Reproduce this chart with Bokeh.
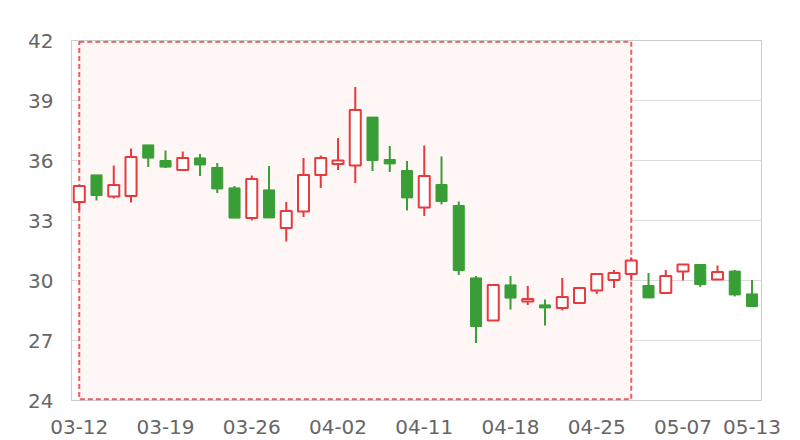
from bokeh.plotting import figure
from bokeh.models import FixedTicker, ColumnDataSource, Range1d
from bokeh.embed import file_html
from bokeh.resources import INLINE

dates = ["03-12", "03-13", "03-14", "03-15", "03-18", "03-19", "03-20", "03-21", "03-22", "03-25",
         "03-26", "03-27", "03-28", "03-29", "04-01", "04-02", "04-03", "04-04", "04-08", "04-09",
         "04-11", "04-12", "04-15", "04-16", "04-17", "04-18", "04-19", "04-22", "04-23", "04-24",
         "04-25", "04-26", "04-29", "04-30", "05-06", "05-07", "05-08", "05-09", "05-10", "05-13"]
opens = [33.92, 35.28, 34.20, 34.23, 36.78, 36.00, 35.53, 36.13, 35.65, 34.63,
         33.13, 34.53, 32.63, 33.45, 35.27, 35.83, 35.75, 38.17, 36.05, 35.50,
         33.65, 34.80, 33.75, 30.13, 28.00, 29.78, 28.95, 28.78, 28.63, 28.87,
         29.50, 30.03, 30.33, 29.75, 29.37, 30.45, 30.80, 30.05, 30.47, 29.33]
closes = [34.72, 34.25, 34.78, 36.17, 36.12, 35.67, 36.12, 35.78, 34.58, 33.12,
          35.07, 33.13, 33.48, 35.28, 36.13, 36.00, 38.53, 36.00, 35.83, 34.13,
          35.22, 33.95, 30.50, 27.70, 29.77, 29.12, 29.08, 28.63, 29.17, 29.63,
          30.33, 30.37, 31.00, 29.13, 30.22, 30.80, 29.80, 30.42, 29.28, 28.70]
lows = [33.50, 34.00, 34.10, 33.90, 35.67, 35.62, 35.47, 35.22, 34.38, 33.12,
        33.00, 33.13, 31.95, 33.17, 34.62, 35.53, 34.88, 35.47, 35.42, 33.50,
        33.22, 33.80, 30.28, 26.87, 28.00, 28.55, 28.78, 27.75, 28.50, 28.87,
        29.33, 29.62, 30.00, 29.13, 29.33, 30.00, 29.67, 30.05, 29.20, 28.70]
highs = [34.72, 35.28, 35.75, 36.60, 36.78, 36.50, 36.45, 36.33, 35.88, 34.72,
         35.25, 35.72, 33.92, 36.12, 36.25, 37.13, 39.67, 38.17, 36.73, 35.97,
         36.75, 36.20, 33.95, 30.23, 29.77, 30.22, 29.72, 29.05, 30.13, 29.63,
         30.33, 30.53, 31.15, 30.37, 30.53, 30.80, 30.80, 30.75, 30.53, 30.03]
label_dates = ["03-12", "03-19", "03-26", "04-02", "04-11", "04-18", "04-25", "05-07", "05-13"]
area_dates = ["03-12", "04-29"]
y_ticks = [24, 27, 30, 33, 36, 39, 42]

RED = "#e8393d"
GREEN = "#3a9e36"

xs = list(range(len(dates)))
up = [c >= o for o, c in zip(opens, closes)]
src = ColumnDataSource(dict(
    x=xs,
    top=[max(o, c) for o, c in zip(opens, closes)],
    bottom=[min(o, c) for o, c in zip(opens, closes)],
    low=lows, high=highs,
    color=[RED if u else GREEN for u in up],
    fill=["#ffffff" if u else GREEN for u in up],
    lw=[2 if u else 1 for u in up],
))

p = figure(width=790, height=438, output_backend="svg", toolbar_location=None,
           x_range=Range1d(-0.45, 39.55), y_range=Range1d(24, 42),
           min_border_left=71, min_border_right=29, min_border_top=40, min_border_bottom=38)

a0 = dates.index(area_dates[0])
a1 = dates.index(area_dates[1])
p.quad(left=[a0], right=[a1], bottom=[24.06], top=[41.94],
       fill_color="#fff6f6", line_color="#ee4a4f", line_width=2, line_dash="5 3", line_alpha=0.9)

p.segment(x0="x", x1="x", y0="low", y1="high", color="color", line_width=2, source=src)
p.vbar(x="x", width=0.64, top="top", bottom="bottom", fill_color="fill",
       line_color="color", line_width="lw", source=src)

p.xaxis.ticker = FixedTicker(ticks=[dates.index(d) for d in label_dates])
p.xaxis.major_label_overrides = {dates.index(d): d for d in label_dates}
p.yaxis.ticker = FixedTicker(ticks=y_ticks)
p.ygrid.ticker = FixedTicker(ticks=y_ticks)
p.xgrid.visible = False
p.ygrid.grid_line_color = "#dddddd"
p.ygrid.grid_line_width = 1

for ax in (p.xaxis, p.yaxis):
    ax.major_tick_line_color = None
    ax.minor_tick_line_color = None
    ax.major_label_text_font = "DejaVu Sans"
    ax.major_label_text_font_size = "20px"
    ax.major_label_text_color = "#666666"
p.xaxis.axis_line_color = None
p.yaxis.axis_line_color = "#cccccc"
p.yaxis.major_label_standoff = 12
p.xaxis.major_label_standoff = 13
p.outline_line_color = "#cccccc"
p.outline_line_width = 1
p.background_fill_color = "#ffffff"
p.border_fill_color = "#ffffff"

open("out.html", "w").write(file_html(p, INLINE))
